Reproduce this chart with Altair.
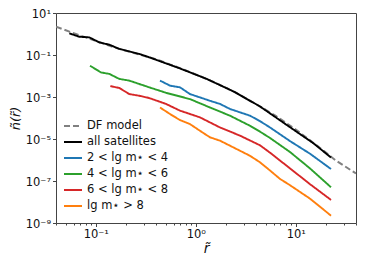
import altair as alt
import pandas as pd

# ---- data (log10 values) ----
DF_LR = [-1.398, -1.2, -1.0, -0.8, -0.6, -0.4, -0.2, 0.0, 0.2, 0.4, 0.6, 0.8, 1.0, 1.2, 1.4, 1.602]
DF_LN = [0.35, 0.0, -0.33, -0.66, -0.93, -1.20, -1.55, -1.92, -2.33, -2.79, -3.33, -3.90, -4.55, -5.27, -6.02, -6.64]

ALL_LR = [-1.265, -1.165, -1.065, -0.965, -0.865, -0.765, -0.665, -0.565, -0.465, -0.298, -0.158, 0.109, 0.375, 0.642, 0.909, 1.175, 1.352]
ALL_LN = [0.03, -0.13, -0.16, -0.40, -0.51, -0.71, -0.83, -0.95, -1.11, -1.40, -1.64, -2.14, -2.73, -3.45, -4.33, -5.20, -5.88]

B_LR = [-0.358, -0.258, -0.158, -0.058, 0.042, 0.142, 0.242, 0.342, 0.442, 0.542, 0.642, 0.742, 0.942, 1.142, 1.352]
B_LN = [-2.22, -2.46, -2.54, -2.86, -3.02, -3.18, -3.33, -3.57, -3.73, -3.89, -4.15, -4.45, -5.10, -5.70, -6.43]

G_LR = [-1.058, -0.948, -0.865, -0.765, -0.665, -0.565, -0.465, -0.298, -0.058, 0.142, 0.342, 0.542, 0.642, 0.742, 0.942, 1.142, 1.352]
G_LN = [-1.51, -1.83, -1.90, -2.14, -2.22, -2.38, -2.54, -2.80, -3.10, -3.50, -3.89, -4.37, -4.65, -4.95, -5.62, -6.40, -7.30]

R_LR = [-0.855, -0.765, -0.665, -0.565, -0.465, -0.298, -0.158, 0.042, 0.242, 0.442, 0.642, 0.742, 0.942, 1.142, 1.352]
R_LN = [-2.48, -2.57, -2.86, -2.94, -3.05, -3.33, -3.65, -3.97, -4.45, -4.84, -5.30, -5.65, -6.40, -7.15, -7.90]

O_LR = [-0.358, -0.258, -0.158, -0.058, 0.042, 0.142, 0.242, 0.342, 0.442, 0.542, 0.642, 0.742, 0.842, 0.942, 1.142, 1.352]
O_LN = [-3.50, -3.81, -4.10, -4.29, -4.61, -4.92, -5.08, -5.32, -5.56, -5.80, -6.11, -6.50, -6.90, -7.20, -7.84, -8.65]

NAMES = ["DF model", "all satellites", "2 < lg m⋆ < 4", "4 < lg m⋆ < 6", "6 < lg m⋆ < 8", "lg m⋆ > 8"]
COLORS = ["#808080", "#000000", "#1f77b4", "#2ca02c", "#d62728", "#ff7f0e"]
DASHES = [[6, 3], [1, 0], [1, 0], [1, 0], [1, 0], [1, 0]]

Y_TICKS = [10, 0.1, 1e-3, 1e-5, 1e-7, 1e-9]

series = [(DF_LR, DF_LN), (ALL_LR, ALL_LN), (B_LR, B_LN), (G_LR, G_LN), (R_LR, R_LN), (O_LR, O_LN)]
rows = []
for i, (lr, ln) in enumerate(series):
    for k, (a, b) in enumerate(zip(lr, ln)):
        rows.append({"series": NAMES[i], "r": 10 ** a, "n": 10 ** b, "k": k})
df = pd.DataFrame(rows)

minor = []
for d in [0.01, 0.1, 1, 10]:
    for m in range(1, 10):
        v = d * m
        if 0.04 <= v <= 40:
            minor.append(v)

SUP = {"-": "⁻", "0": "⁰", "1": "¹", "2": "²", "3": "³", "4": "⁴", "5": "⁵",
       "6": "⁶", "7": "⁷", "8": "⁸", "9": "⁹"}


def sup(e):
    return "10" + "".join(SUP[c] for c in str(e))


def label_expr(exps):
    expr = "''"
    for e in exps:
        expr = f"round(log(datum.value)/LN10) == {e} ? '{sup(e)}' : ({expr})"
    return f"abs(log(datum.value)/LN10 - round(log(datum.value)/LN10)) < 0.001 ? ({expr}) : ''"


x_expr = label_expr([-1, 0, 1])
y_expr = label_expr([1, -1, -3, -5, -7, -9])

major_test = "abs(log(datum.value)/LN10 - round(log(datum.value)/LN10)) < 0.001"

x_enc = alt.X(
    "r:Q",
    scale=alt.Scale(type="log", domain=[0.04, 40], nice=False),
    axis=alt.Axis(
        values=minor, labelExpr=x_expr, title="r̃",
        tickSize={"condition": {"test": major_test, "value": 3.5}, "value": 2},
        labelFlush=False, labelOverlap=False, titlePadding=1,
    ),
)
y_enc = alt.Y(
    "n:Q",
    scale=alt.Scale(type="log", domain=[1e-9, 10], nice=False),
    axis=alt.Axis(values=Y_TICKS, labelExpr=y_expr, title="ñ(r̃)", tickSize=3.5,
                  labelFlush=False, labelOverlap=False, titlePadding=3,
                  titleFontSize=13, labelOffset=1.5),
)
leg = alt.Legend(
    title=None, orient="none", legendX=7, legendY=103,
    symbolType="stroke", symbolSize=324, symbolStrokeWidth=2,
    labelFontSize=11.5, labelFont="DejaVu Sans", labelColor="#111", rowPadding=-2,
    padding=0, labelOffset=4, labelLimit=200,
)
color_enc = alt.Color("series:N", scale=alt.Scale(domain=NAMES, range=COLORS), legend=leg)
dash_enc = alt.StrokeDash("series:N", scale=alt.Scale(domain=NAMES, range=DASHES), legend=leg)

base = alt.Chart(df)
df_layer = base.transform_filter(alt.datum.series == "DF model").mark_line(strokeWidth=2, clip=True).encode(
    x=x_enc, y=y_enc, color=color_enc, strokeDash=dash_enc, order="k:Q")
other = base.transform_filter(alt.datum.series != "DF model").mark_line(strokeWidth=1.9, clip=True).encode(
    x=x_enc, y=y_enc, color=color_enc, strokeDash=dash_enc, order="k:Q")

chart = alt.layer(df_layer, other).properties(
    width=300, height=210,
    autosize=alt.AutoSizeParams(type="none"),
    padding={"left": 48, "top": 5, "right": 10, "bottom": 31},
).configure_view(stroke="#444", strokeWidth=1).configure_axis(
    labelFont="DejaVu Sans", labelFontSize=11.5, labelColor="#111",
    titleFont="DejaVu Sans", titleFontSize=14, titleFontStyle="italic", titleFontWeight="normal",
    titleColor="#111", domain=False, tickColor="#444", grid=False, labelPadding=2,
)

chart.save("out.html", embed_options={"renderer": "svg", "actions": False})
